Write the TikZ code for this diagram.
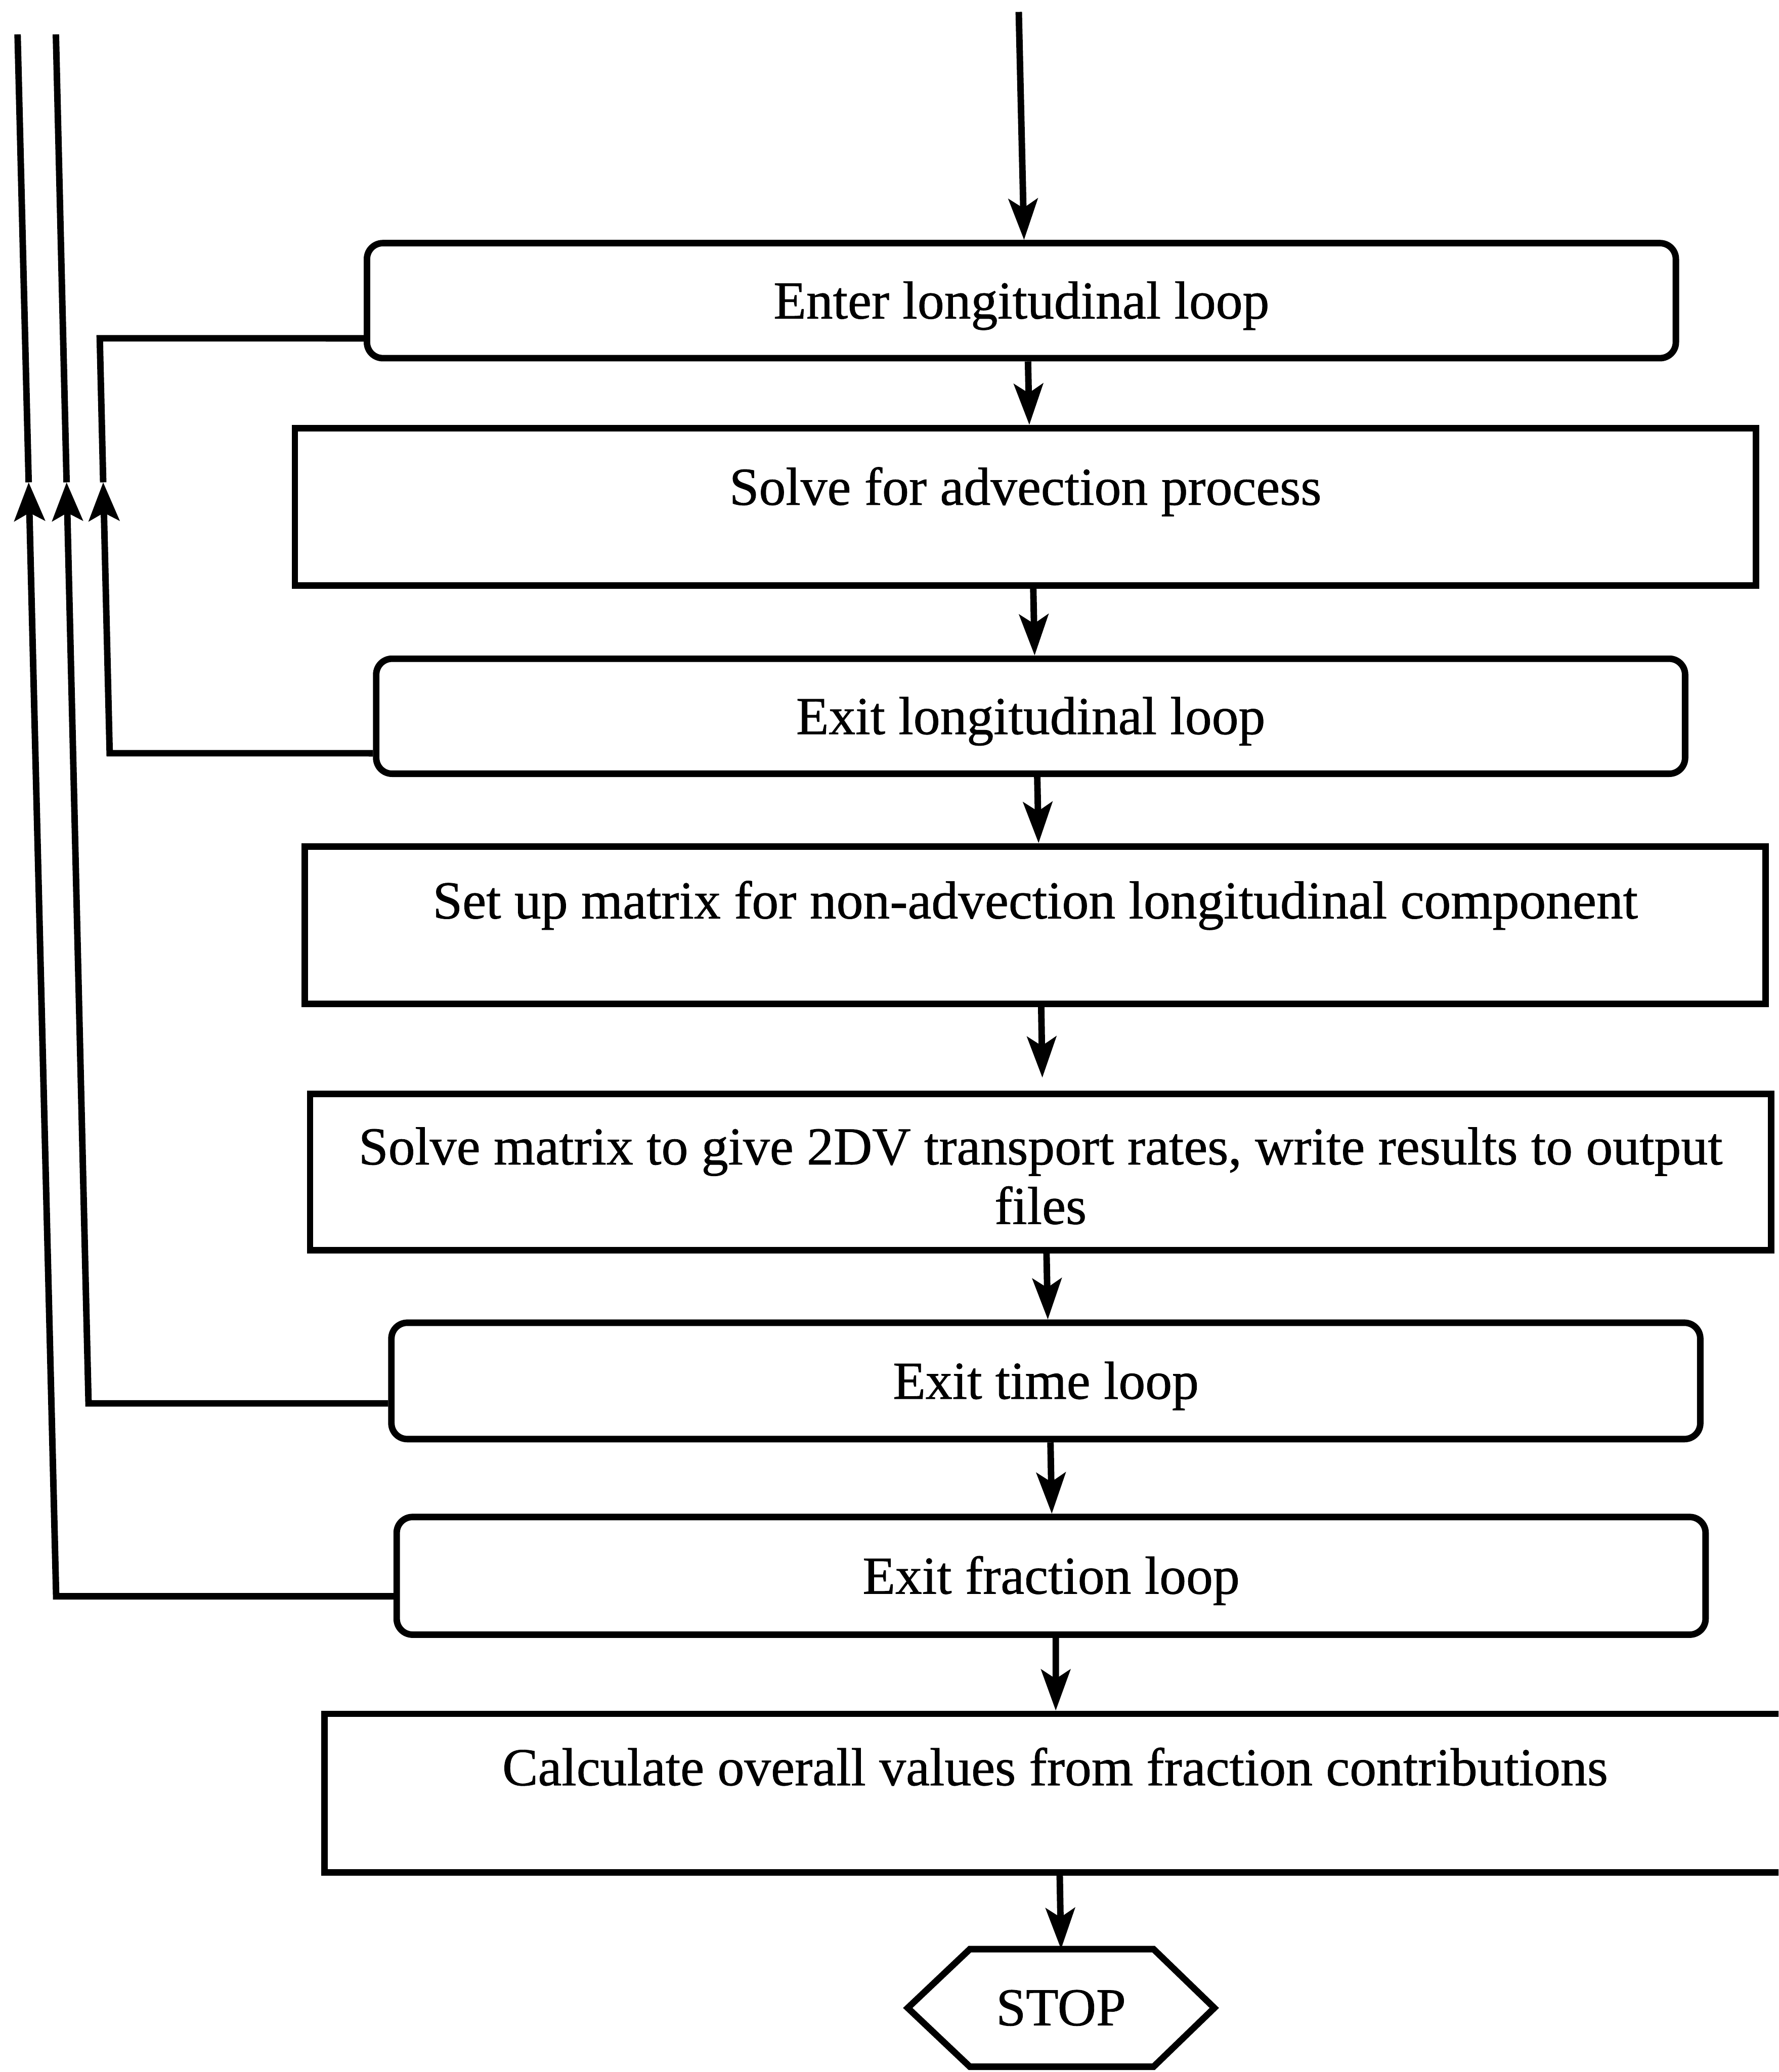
\documentclass[tikz,border=0pt]{standalone}
\usepackage{fontspec}
\setmainfont{Liberation Serif}[FakeBold=0.8]
\usetikzlibrary{arrows.meta,calc}
\begin{document}
\begin{tikzpicture}[x=0.01cm,y=-0.01cm,
  font=\fontsize{11.5}{12.8}\selectfont,
  every node/.style={inner sep=0pt},
  loopbox/.style={draw, line width=1.4pt, rounded corners=0.12cm,
    minimum width=9.9cm, minimum height=0.87cm, text height=0.27cm, text depth=0pt},
  procbox/.style={draw, line width=1.4pt, minimum width=11.05cm,
    minimum height=1.19cm, text height=0pt},
  flow/.style={line width=1.4pt, -{Stealth[length=0.31cm,width=0.22cm,inset=0.07cm]}},
  back/.style={line width=1.4pt},
  backtip/.style={line width=1.4pt, -{Stealth[length=0.29cm,width=0.23cm,inset=0.06cm]}}]

\path[use as bounding box, clip] (0,0) rectangle (1346,1568);

% process chain
\node[loopbox] (b1) at (773,227.5) {Enter longitudinal loop};
\node[procbox, text depth=0.03cm] (b2) at (776,383.5) {Solve for advection process};
\node[loopbox] (b3) at (780,542) {Exit longitudinal loop};
\node[procbox, text depth=0.10cm] (b4) at (783.5,700) {Set up matrix for non-advection longitudinal component};
\node[draw, line width=1.4pt, minimum width=11.05cm, minimum height=1.18cm, align=center] (b5) at (787.5,887)
  {\rule{0pt}{9.6pt}Solve matrix to give 2DV transport rates, write results to output\\files};
\node[loopbox, minimum height=0.88cm] (b6) at (791.5,1045) {Exit time loop};
\node[loopbox, minimum height=0.89cm] (b7) at (795.5,1192.5) {Exit fraction loop};
\node[procbox, minimum height=1.20cm, text depth=0.12cm] (b8) at (798.5,1357) {Calculate overall values from fraction contributions};

% terminal hexagon
\node (stop) at (803,1519.5) {STOP};
\draw[line width=1.4pt] ($(stop.center)+(-116,0)$) -- ++(47,-44.5) -- ++(139,0)
  -- ++(46,44.5) -- ++(-46,44.5) -- ++(-139,0) -- cycle;
\coordinate (stoptop) at ($(stop.center)+(0,-44.5)$);

% downward flow
\coordinate (in) at (771,9);
\draw[flow] (in) -- ([xshift=0.02cm]b1.north);
\draw[flow] ([xshift=0.05cm]b1.south) -- ([xshift=0.03cm]b2.north);
\draw[flow] ([xshift=0.06cm]b2.south) -- ([xshift=0.03cm]b3.north);
\draw[flow] ([xshift=0.05cm]b3.south) -- ([xshift=0.025cm]b4.north);
\draw[flow, shorten >=0.1cm] ([xshift=0.045cm]b4.south) -- ([xshift=0.015cm]b5.north);
\draw[flow] ([xshift=0.045cm]b5.south) -- ([xshift=0.015cm]b6.north);
\draw[flow] ([xshift=0.035cm]b6.south) -- ([xshift=0.005cm]b7.north);
\draw[flow] ([xshift=0.035cm]b7.south) -- ([xshift=0.005cm]b8.north);
\draw[flow] ([xshift=0.035cm]b8.south) -- (stoptop);

% longitudinal loop return
\coordinate (lc1) at (83,570);
\coordinate (lc2) at (78.1,365);
\coordinate (lc3) at (75.5,256);
\draw[backtip] ([yshift=-0.28cm]b3.west) -- (lc1) -- (lc2);
\draw[back] (lc2) -- (lc3) -- ([yshift=-0.285cm]b1.west);

% time loop return
\coordinate (tc1) at (67,1062);
\coordinate (tc2) at (50.4,365);
\coordinate (tc3) at (42.3,26);
\draw[backtip] ([yshift=-0.17cm]b6.west) -- (tc1) -- (tc2);
\draw[back] (tc2) -- (tc3);

% fraction loop return
\coordinate (fc1) at (42.5,1208);
\coordinate (fc2) at (21.7,365);
\coordinate (fc3) at (13.3,26);
\draw[backtip] ([yshift=-0.155cm]b7.west) -- (fc1) -- (fc2);
\draw[back] (fc2) -- (fc3);
\end{tikzpicture}
\end{document}
